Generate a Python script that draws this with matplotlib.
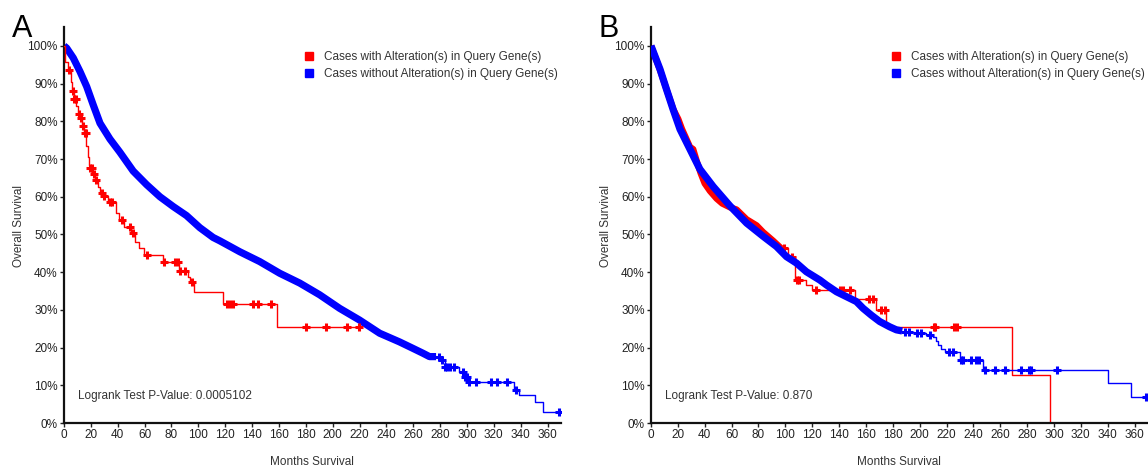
import matplotlib
matplotlib.use("Agg")
import matplotlib.pyplot as plt
from matplotlib.lines import Line2D

plt.rcParams['font.family'] = ['Liberation Sans', 'DejaVu Sans']

RED = '#ff0000'
BLUE = '#0000ff'

# ---------------- Painel A ----------------
# parte densa (muitos censurados) da curva azul
a_blue_band_t = [0, 2, 6.9, 11.9, 16.9, 21.8, 26.8, 34.2, 41.6, 51.5, 61.5, 71.4, 81.3, 91.2,
                 101.1, 111, 116, 130.9, 145.7, 160.6, 175.5, 190.3, 205.2, 220, 235, 249.8,
                 259.7, 267.2, 272.1, 277]
a_blue_band_s = [100, 99.4, 96.8, 93.2, 89.2, 84.3, 79.5, 75.3, 71.8, 66.8, 63.2, 60.0, 57.4,
                 55.0, 51.8, 49.2, 48.3, 45.4, 42.8, 39.7, 37.1, 34.0, 30.4, 27.3, 23.8, 21.5,
                 19.8, 18.5, 17.6, 17.6]
# cauda em degraus
a_blue_t = [277, 280.8, 283.3, 294.4, 298.1, 300.6, 335.3, 339, 350.5, 356.4, 370]
a_blue_s = [17.6, 16.7, 14.9, 13.6, 12.3, 11.0, 8.8, 7.4, 5.6, 3.0, 3.0]
a_blue_cens_t = [279, 281.5, 284, 285.5, 287, 290.7, 297, 298.5, 300, 301.5, 306.8, 318,
                 322.2, 329.9, 336.6, 368.8]
a_blue_cens_s = [17.6, 16.7, 14.9, 14.9, 14.9, 14.9, 13.6, 12.3, 12.3, 11.0, 11.0, 11.0,
                 11.0, 11.0, 8.8, 3.0]

a_red_t = [0, 1.0, 3.0, 5.0, 6.0, 7.5, 9.0, 10.5, 12.0, 13.5, 15.0, 16.5, 17.5, 18.5, 19.3,
           21, 23, 25, 27, 29, 33, 38.5, 41, 45, 50, 53, 56, 59.5, 73.7, 85.5, 92.4, 93.5,
           96.9, 118.5, 158.5, 221]
a_red_s = [100, 95.8, 93.6, 90.5, 87.9, 85.9, 84.0, 82.0, 81.0, 78.8, 76.8, 73.5, 70.5, 68.5,
           67.5, 66.0, 64.5, 62.5, 61.0, 60.2, 58.7, 55.6, 53.7, 52.1, 50.3, 48.1, 46.3, 44.6,
           42.6, 40.3, 38.8, 37.5, 34.7, 31.6, 25.4, 25.4]
a_red_cens_t = [4.0, 6.5, 7.8, 8.8, 11.4, 12.3, 14.5, 15.6, 16.2, 19.3, 20.5, 22, 23.5, 28,
                29.7, 34.2, 36, 42.9, 49, 51.5, 61.5, 74.7, 83, 84.5, 86.5, 90.2, 95.3,
                121.7, 123.9, 125.5, 140.8, 144.5, 154.4, 180, 194.9, 210.7, 219.6]
a_red_cens_s = [93.6, 87.9, 85.9, 85.9, 82.0, 81.0, 78.8, 76.8, 76.8, 67.5, 67.5, 66.0, 64.5,
                61.0, 60.2, 58.7, 58.7, 53.7, 52.1, 50.3, 44.6, 42.6, 42.6, 42.6, 40.3, 40.3,
                37.5, 31.6, 31.6, 31.6, 31.6, 31.6, 31.6, 25.4, 25.4, 25.4, 25.4]

# ---------------- Painel B ----------------
b_blue_band_t = [0, 6.7, 11.7, 16.6, 21.6, 29, 36.4, 46.3, 58.7, 71.2, 83.5, 93.4, 100.9,
                 108.3, 115.7, 125.7, 130.6, 138.1, 145.5, 152.9, 157.9, 164, 170.3, 177.7,
                 182.7, 187]
b_blue_band_s = [100, 93.8, 88.3, 83.0, 77.9, 72.6, 67.3, 62.7, 57.6, 53.0, 49.5, 46.8, 44.1,
                 42.4, 40.1, 37.9, 36.6, 34.8, 33.5, 32.2, 30.4, 28.6, 26.9, 25.5,
                 24.7, 24.4]
b_blue_t = [187, 196, 205, 210, 212, 213.6, 216, 218.6, 229.7, 247, 340, 357.4, 370]
b_blue_s = [24.2, 23.8, 23.3, 22.9, 21.8, 20.7, 19.7, 18.9, 16.7, 14.1, 10.5, 7.0, 7.0]
b_blue_cens_t = [189, 192, 198, 201, 208, 222, 225, 231, 232, 238.3, 242, 244.5, 248.8,
                 256.2, 263.6, 275.5, 281.7, 282.7, 302.5, 368.5]
b_blue_cens_s = [24.2, 24.2, 23.8, 23.8, 23.3, 18.9, 18.9, 16.7, 16.7, 16.7, 16.7, 16.7, 14.1,
                 14.1, 14.1, 14.1, 14.1, 14.1, 14.1, 7.0]

b_red_band_t = [0, 6.7, 11.7, 16.6, 20.3, 23, 29, 31.4, 34, 37, 40, 43.9, 48.8, 53, 58.7,
                63.7, 71.2, 78.6, 83.5, 91, 97]
b_red_band_s = [100, 93.6, 88.3, 83.2, 80.6, 78.0, 73.2, 72.6, 69.5, 66.2, 63.5, 61.5, 59.5,
                58.2, 57.2, 56.6, 54.0, 52.4, 50.6, 48.3, 46.3]
b_red_t = [97, 102, 107, 115.7, 120, 151.5, 167.8, 175, 268.7, 297.4, 297.4]
b_red_s = [46.3, 44.1, 37.9, 36.6, 35.3, 32.8, 30.0, 25.4, 12.7, 0, 0]
b_red_cens_t = [99, 104.6, 108.5, 110.5, 123, 140.4, 142.9, 147.9, 162.5, 165.3, 171.4, 173.9,
                210.5, 211.7, 225.4, 227.9]
b_red_cens_s = [46.3, 44.1, 37.9, 37.9, 35.3, 35.3, 35.3, 35.3, 32.8, 32.8, 30.0, 30.0,
                25.4, 25.4, 25.4, 25.4]

legend_labels = ["Cases with Alteration(s) in Query Gene(s)",
                 "Cases without Alteration(s) in Query Gene(s)"]
x_ticks = list(range(0, 361, 20))
y_ticks = list(range(0, 101, 10))


def draw_group(ax, band_t, band_s, t, s, ct, cs, color, z, band_lw=5.2):
    ax.plot(band_t, band_s, color=color, lw=band_lw, solid_capstyle='butt',
            solid_joinstyle='round', zorder=z)
    ax.plot(t, s, color=color, lw=1.0, drawstyle='steps-post', zorder=z)
    ax.plot(ct, cs, ls='', marker='+', ms=6, mew=2.2, color=color, zorder=z)


def draw_red_plain(ax, t, s, ct, cs, z):
    ax.plot(t, s, color=RED, lw=1.0, drawstyle='steps-post', zorder=z)
    ax.plot(ct, cs, ls='', marker='+', ms=6, mew=2.2, color=RED, zorder=z)


def style_axes(ax, letter, pvalue):
    ax.set_xlim(0, 370)
    ax.set_ylim(0, 105)
    ax.set_xticks(x_ticks)
    ax.set_yticks(y_ticks)
    ax.set_yticklabels([f"{v}%" for v in y_ticks])
    for sp in ['top', 'right']:
        ax.spines[sp].set_visible(False)
    for sp in ['left', 'bottom']:
        ax.spines[sp].set_linewidth(1.6)
        ax.spines[sp].set_color('#111111')
    ax.tick_params(direction='out', length=3, width=1, labelsize=8.5, pad=1.5,
                   colors='#222222')
    ax.set_xlabel("Months Survival", fontsize=8.5, color='#333333')
    ax.set_ylabel("Overall Survival", fontsize=8.5, color='#333333')
    ax.xaxis.set_label_coords(0.498, -0.083)
    ax.yaxis.set_label_coords(-0.079, 0.497)
    ax.text(10.4, 7.2, f"Logrank Test P-Value: {pvalue}", fontsize=8.5,
            color='#333333', ha='left', va='center')
    ax.text(-0.105, 1.032, letter, transform=ax.transAxes, fontsize=22,
            ha='left', va='top')
    handles = [Line2D([], [], ls='', marker='s', ms=5.5, color=RED),
               Line2D([], [], ls='', marker='s', ms=5.5, color=BLUE)]
    leg = ax.legend(handles, legend_labels, loc='upper left', bbox_to_anchor=(0.485, 0.94),
                    frameon=False, borderpad=0, borderaxespad=0, handlelength=0.7,
                    handletextpad=0.9, labelspacing=0.45, fontsize=8.5)
    for txt in leg.get_texts():
        txt.set_color('#333333')


fig = plt.figure(figsize=(11.48, 4.68), dpi=100)
axA = fig.add_axes([64 / 1148, 1 - 423 / 468, 497 / 1148, 396 / 468])
axB = fig.add_axes([651 / 1148, 1 - 423 / 468, 497 / 1148, 396 / 468])

draw_group(axA, a_blue_band_t, a_blue_band_s, a_blue_t, a_blue_s,
           a_blue_cens_t, a_blue_cens_s, BLUE, 2)
draw_red_plain(axA, a_red_t, a_red_s, a_red_cens_t, a_red_cens_s, 3)
style_axes(axA, "A", "0.0005102")

draw_group(axB, b_red_band_t, b_red_band_s, b_red_t, b_red_s,
           b_red_cens_t, b_red_cens_s, RED, 2, band_lw=4.6)
draw_group(axB, b_blue_band_t, b_blue_band_s, b_blue_t, b_blue_s,
           b_blue_cens_t, b_blue_cens_s, BLUE, 3)
style_axes(axB, "B", "0.870")

fig.savefig("out.png", dpi=100)
